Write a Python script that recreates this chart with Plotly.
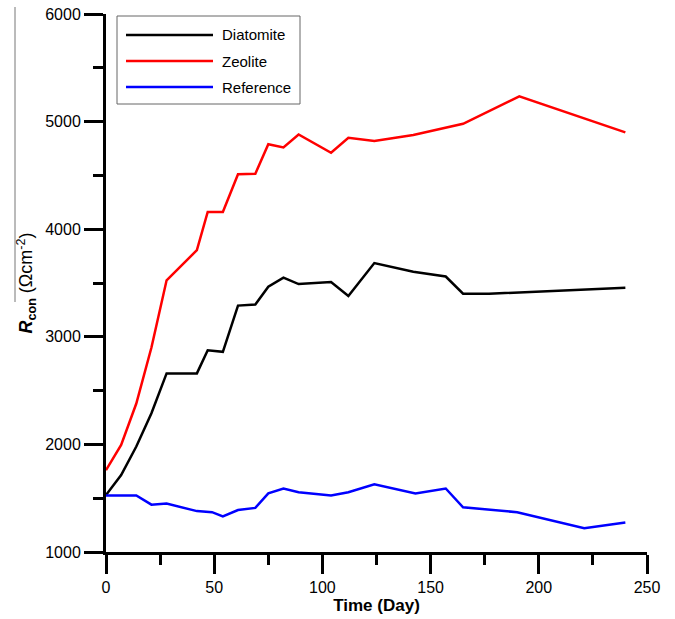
import plotly.graph_objects as go

# ---- data ----
zeo_days = [0, 7, 14, 21, 28, 42, 47, 54, 61, 69, 75, 82, 89, 104, 112, 124, 142, 165, 191, 240]
zeo_vals = [1760, 1995, 2380, 2900, 3525, 3805, 4160, 4160, 4510, 4515, 4790, 4760, 4880, 4710, 4850, 4820, 4875, 4980, 5235, 4900]

dia_days = [0, 7, 14, 21, 28, 42, 47, 54, 61, 69, 75, 82, 89, 96, 104, 112, 124, 142, 157, 165, 177, 240]
dia_vals = [1530, 1715, 1980, 2290, 2660, 2660, 2875, 2860, 3290, 3300, 3465, 3550, 3490, 3500, 3510, 3380, 3685, 3605, 3560, 3400, 3400, 3455]

ref_days = [0, 14, 21, 28, 42, 49, 54, 61, 69, 75, 82, 89, 104, 112, 124, 143, 157, 165, 190, 221, 240]
ref_vals = [1525, 1525, 1440, 1450, 1380, 1370, 1330, 1390, 1410, 1545, 1590, 1555, 1525, 1555, 1630, 1545, 1590, 1415, 1370, 1220, 1275]

series_names = ["Diatomite", "Zeolite", "Reference"]
series_colors = ["#000000", "#ff0000", "#0000ff"]
series_days = [dia_days, zeo_days, ref_days]
series_vals = [dia_vals, zeo_vals, ref_vals]

x_ticks = [0, 50, 100, 150, 200, 250]
y_ticks = [1000, 2000, 3000, 4000, 5000, 6000]

FONT = "Arial, Liberation Sans, Helvetica, sans-serif"

fig = go.Figure()
for name, color, d, v in zip(series_names, series_colors, series_days, series_vals):
    fig.add_trace(go.Scatter(x=d, y=v, mode="lines", name=name,
                             line=dict(color=color, width=2.5), showlegend=False))

axis_common = dict(
    showgrid=False, zeroline=False, showline=True, linecolor="black", linewidth=3,
    ticks="outside", ticklen=19, tickwidth=3, tickcolor="black", automargin=False,
    tickfont=dict(family=FONT, size=16, color="black"),
)

fig.update_layout(
    width=675, height=619,
    margin=dict(l=106, r=28, t=14, b=67, pad=0),
    paper_bgcolor="white", plot_bgcolor="white",
    font=dict(family=FONT, color="black"),
    xaxis=dict(range=[0, 250], tickvals=x_ticks, ticklabelstandoff=0,
               minor=dict(tickvals=[25, 75, 125, 175, 225], ticklen=10, tickwidth=3,
                          tickcolor="black", ticks="outside"),
               title=dict(text="<b>Time (Day)</b>", font=dict(family=FONT, size=17), standoff=0),
               **axis_common),
    yaxis=dict(range=[1000, 6000], tickvals=y_ticks,
               minor=dict(tickvals=[1500, 2500, 3500, 4500, 5500], ticklen=10, tickwidth=3,
                          tickcolor="black", ticks="outside"),
               title=dict(text="<b><i>R</i><sub>con</sub></b> (Ωcm<sup>-2</sup>)",
                          font=dict(family=FONT, size=18), standoff=8),
               **axis_common),
    showlegend=False,
)

# ---- legend box drawn in paper coordinates ----
PW, PH = 675 - 106 - 28, 619 - 14 - 67
def px(xp):
    return (xp - 106) / PW
def py(yp):
    return (552 - yp) / PH

fig.add_shape(type="rect", xref="paper", yref="paper",
              x0=px(117), x1=px(300), y0=py(104), y1=py(16),
              line=dict(color="#666666", width=1), fillcolor="white", layer="above")
rows = [35, 61, 87]
for name, color, ry in zip(series_names, series_colors, rows):
    fig.add_shape(type="line", xref="paper", yref="paper",
                  x0=px(126), x1=px(213), y0=py(ry), y1=py(ry),
                  line=dict(color=color, width=2.5), layer="above")
    fig.add_annotation(xref="paper", yref="paper", x=px(220), y=py(ry),
                       xanchor="left", yanchor="middle", showarrow=False,
                       text=name, font=dict(family=FONT, size=15, color="black"))

# overline of the mean symbol above R_con (long thin bar at left edge)
fig.add_shape(type="line", xref="paper", yref="paper",
              x0=px(15), x1=px(15), y0=py(302), y1=py(7),
              line=dict(color="#777777", width=1))

fig.write_html("out.html")
